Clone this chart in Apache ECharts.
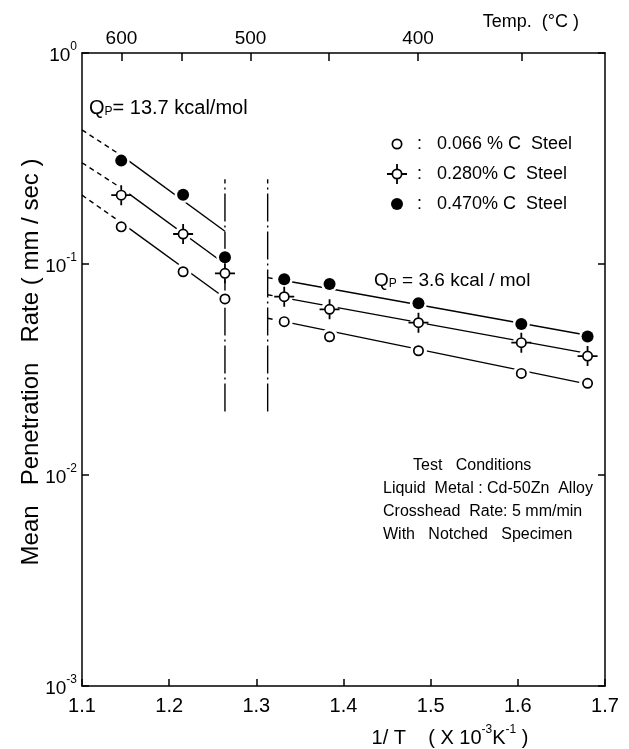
<!DOCTYPE html>
<html lang="en">
<head>
<meta charset="UTF-8">
<title>Mean penetration rate</title>
<script src="https://cdn.jsdelivr.net/npm/echarts@6/dist/echarts.min.js"></script>
</head>
<body style="margin:0;background:#fff">
<div id="main" style="width:629px;height:749px;"></div>
<script>
// 1/T  (x10^-3 K^-1) of the measured points
var xLeft = [1.145, 1.216, 1.264];
var xRight = [1.332, 1.384, 1.486, 1.604, 1.680];

// mean penetration rate (mm/sec)
var low066 = [0.150, 0.0919, 0.0683];
var low280 = [0.212, 0.1387, 0.0903];
var low470 = [0.309, 0.213, 0.1076];
var high066 = [0.0533, 0.0452, 0.0388, 0.0303, 0.0272];
var high280 = [0.0700, 0.0610, 0.0527, 0.0424, 0.0366];
var high470 = [0.0846, 0.0804, 0.0651, 0.0519, 0.0453];

// fitted lines (dashed extension, then solid part)
var fitLeftX = [1.100, 1.145, 1.264];
var fitLeft066 = [0.212, 0.157, 0.069];
var fitLeft280 = [0.302, 0.229, 0.100];
var fitLeft470 = [0.432, 0.327, 0.143];
var fitRightX = [1.313, 1.332, 1.683];
var fitRight066 = [0.0553, 0.0533, 0.0268];
var fitRight280 = [0.0715, 0.0691, 0.0375];
var fitRight470 = [0.0862, 0.0835, 0.0457];

// dash-dot boundaries
var boundaryX = [1.264, 1.313];
var boundaryY = [0.02, 0.252];

// top axis, temperature in deg C
var tempTicks = [600, 550, 500, 450, 400, 350];
var tempLabels = [600, 500, 400];

var FONT = 'Liberation Sans';
var ringPath = 'path://M0,0M20,20M4.5,10A5.5,5.5,0,1,1,15.5,10A5.5,5.5,0,1,1,4.5,10ZM6.2,10A3.8,3.8,0,1,0,13.8,10A3.8,3.8,0,1,0,6.2,10Z';
var crossPath = 'path://M0,0M20,20M0,9.1H4.7V10.9H0ZM15.3,9.1H20V10.9H15.3ZM9.1,0H10.9V4.7H9.1ZM9.1,15.3H10.9V20H9.1Z' +
  'M4.5,10A5.5,5.5,0,1,1,15.5,10A5.5,5.5,0,1,1,4.5,10ZM6.2,10A3.8,3.8,0,1,0,13.8,10A3.8,3.8,0,1,0,6.2,10Z';
var dotPath = 'path://M0,0M20,20M4,10A6,6,0,1,1,16,10A6,6,0,1,1,4,10Z';

var steels = [
  { name: '0.066 % C  Steel', low: low066, high: high066, fitL: fitLeft066, fitR: fitRight066, symbol: ringPath },
  { name: '0.280% C  Steel', low: low280, high: high280, fitL: fitLeft280, fitR: fitRight280, symbol: crossPath },
  { name: '0.470% C  Steel', low: low470, high: high470, fitL: fitLeft470, fitR: fitRight470, symbol: dotPath }
];

function pts(xs, ys) {
  return xs.map(function (x, i) { return [x, ys[i]]; });
}
function lineSeries(data, type) {
  return {
    type: 'line', data: data, symbol: 'none', silent: true, z: 2,
    lineStyle: { color: '#000', width: 1.4, type: type }
  };
}
function toInv(t) { return 1000 / (t + 273.15); }

var series = [];
steels.forEach(function (s) {
  var l = pts(fitLeftX, s.fitL), r = pts(fitRightX, s.fitR);
  series.push(lineSeries([l[0], l[1]], [5, 4]));
  series.push(lineSeries([l[1], l[2]], 'solid'));
  series.push(lineSeries([r[0], r[1]], [5, 4]));
  series.push(lineSeries([r[1], r[2]], 'solid'));
});
boundaryX.forEach(function (x) {
  series.push(lineSeries([[x, boundaryY[0]], [x, boundaryY[1]]], [28, 4, 2, 4]));
});
var halo = [];
steels.forEach(function (s) {
  halo = halo.concat(pts(xLeft, s.low), pts(xRight, s.high));
});
series.push({
  type: 'scatter', data: halo, symbol: 'circle', symbolSize: 17, silent: true, z: 3,
  itemStyle: { color: '#fff', opacity: 1 }
});
steels.forEach(function (s) {
  series.push({
    type: 'scatter', name: s.name, data: pts(xLeft, s.low).concat(pts(xRight, s.high)),
    symbol: s.symbol, symbolSize: 20, z: 4, itemStyle: { color: '#000', opacity: 1 }
  });
});

var axisLine = { show: true, onZero: false, lineStyle: { color: '#000', width: 1.5 } };
var tickStyle = { color: '#000', width: 1.5 };

var chart = echarts.init(document.getElementById('main'));
chart.setOption({
  animation: false,
  backgroundColor: '#fff',
  grid: { left: 82, right: 24, top: 53, bottom: 63, containLabel: false, outerBoundsMode: 'none' },
  legend: {
    data: steels.map(function (s) { return s.name; }),
    orient: 'vertical', left: 382, top: 129, itemWidth: 20, itemHeight: 20, itemGap: 10,
    selectedMode: false,
    formatter: function (name) { return ' :   ' + name; },
    textStyle: { fontFamily: FONT, fontSize: 18, color: '#000' }
  },
  xAxis: [
    {
      type: 'value', min: 1.1, max: 1.7, interval: 0.1, position: 'bottom',
      axisLine: axisLine,
      axisTick: { inside: true, length: 7, lineStyle: tickStyle },
      axisLabel: {
        color: '#000', fontFamily: FONT, fontSize: 20, margin: 10,
        formatter: function (v) { return v.toFixed(1); }
      },
      splitLine: { show: false }
    },
    {
      type: 'value', min: 1.1, max: 1.7, position: 'top',
      axisLine: axisLine,
      axisTick: { inside: true, length: 8, lineStyle: tickStyle, customValues: tempTicks.map(toInv) },
      axisLabel: {
        color: '#000', fontFamily: FONT, fontSize: 19, margin: 5,
        customValues: tempLabels.map(toInv),
        formatter: function (v) { return String(Math.round(1000 / v - 273.15)); }
      },
      splitLine: { show: false }
    }
  ],
  yAxis: [
    {
      type: 'log', logBase: 10, min: 0.001, max: 1, position: 'left',
      axisLine: axisLine,
      axisTick: { inside: true, length: 7, lineStyle: tickStyle },
      splitLine: { show: false },
      axisLabel: {
        margin: 5,
        formatter: function (v) { return '{b|10}{s|' + Math.round(Math.log10(v)) + '}'; },
        rich: {
          b: { fontFamily: FONT, fontSize: 19, color: '#000', lineHeight: 24, verticalAlign: 'bottom' },
          s: { fontFamily: FONT, fontSize: 12, color: '#000', lineHeight: 24, verticalAlign: 'top' }
        }
      }
    },
    {
      type: 'log', logBase: 10, min: 0.001, max: 1, position: 'right',
      axisLine: axisLine,
      axisTick: { inside: true, length: 7, lineStyle: tickStyle },
      axisLabel: { show: false },
      splitLine: { show: false }
    }
  ],
  series: series,
  graphic: [
    {
      type: 'text', x: 31, y: 362, rotation: Math.PI / 2,
      style: {
        text: 'Mean   Penetration   Rate ( mm / sec )', fill: '#000',
        font: '24px "' + FONT + '"', align: 'center', verticalAlign: 'middle'
      }
    },
    {
      type: 'text', x: 579, y: 22,
      style: { text: 'Temp.  (°C )', fill: '#000', font: '18px "' + FONT + '"', align: 'right', verticalAlign: 'middle' }
    },
    {
      type: 'text', x: 450, y: 736,
      style: {
        text: '{t|1/ T    ( X 10}{s|-3}{t|K}{s|-1}{t| )}', align: 'center', verticalAlign: 'middle',
        rich: {
          t: { fontFamily: FONT, fontSize: 20, fill: '#000', lineHeight: 24, verticalAlign: 'bottom' },
          s: { fontFamily: FONT, fontSize: 12, fill: '#000', lineHeight: 24, verticalAlign: 'top' }
        }
      }
    },
    {
      type: 'text', x: 89, y: 106,
      style: {
        text: '{q|Q}{p|P}{t|= 13.7 kcal/mol}', verticalAlign: 'middle',
        rich: {
          q: { fontFamily: FONT, fontSize: 20, fill: '#000', lineHeight: 24, verticalAlign: 'bottom' },
          p: { fontFamily: FONT, fontSize: 12, fill: '#000', lineHeight: 24, verticalAlign: 'bottom' },
          t: { fontFamily: FONT, fontSize: 20, fill: '#000', lineHeight: 24, verticalAlign: 'bottom' }
        }
      }
    },
    {
      type: 'text', x: 374, y: 278,
      style: {
        text: '{q|Q}{p|P}{t| = 3.6 kcal / mol}', verticalAlign: 'middle',
        rich: {
          q: { fontFamily: FONT, fontSize: 19, fill: '#000', lineHeight: 24, verticalAlign: 'bottom' },
          p: { fontFamily: FONT, fontSize: 12, fill: '#000', lineHeight: 24, verticalAlign: 'bottom' },
          t: { fontFamily: FONT, fontSize: 19, fill: '#000', lineHeight: 24, verticalAlign: 'bottom' }
        }
      }
    },
    { type: 'text', x: 413, y: 466, style: { text: 'Test   Conditions', fill: '#000', font: '16px "' + FONT + '"', verticalAlign: 'middle' } },
    { type: 'text', x: 383, y: 489, style: { text: 'Liquid  Metal : Cd-50Zn  Alloy', fill: '#000', font: '16px "' + FONT + '"', verticalAlign: 'middle' } },
    { type: 'text', x: 383, y: 512, style: { text: 'Crosshead  Rate: 5 mm/min', fill: '#000', font: '16px "' + FONT + '"', verticalAlign: 'middle' } },
    { type: 'text', x: 383, y: 535, style: { text: 'With   Notched   Specimen', fill: '#000', font: '16px "' + FONT + '"', verticalAlign: 'middle' } }
  ]
});
</script>
</body>
</html>
